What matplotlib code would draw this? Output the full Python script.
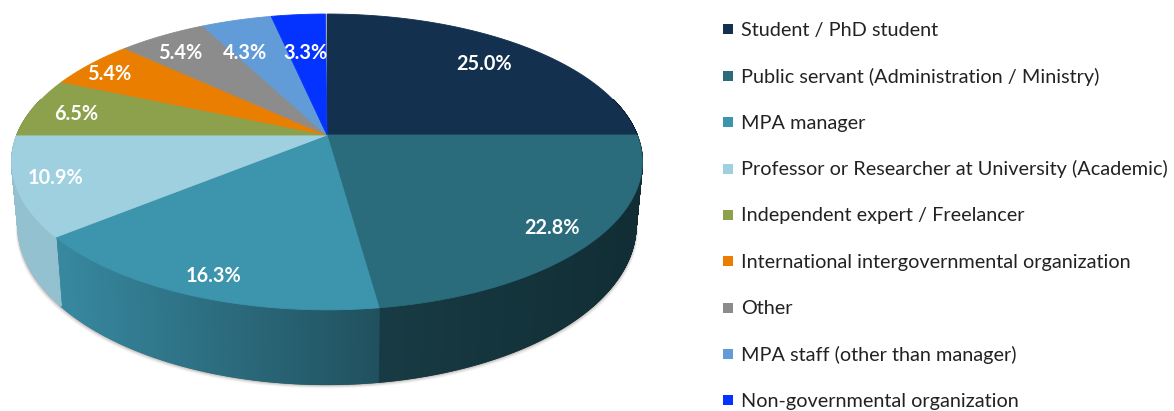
import numpy as np
import matplotlib
matplotlib.use("Agg")
import matplotlib.pyplot as plt
from matplotlib.patches import Polygon, Rectangle
from matplotlib.colors import to_rgb

categories = ["Student / PhD student", "Public servant (Administration / Ministry)",
              "MPA manager", "Professor or Researcher at University (Academic)",
              "Independent expert / Freelancer", "International intergovernmental organization",
              "Other", "MPA staff (other than manager)", "Non-governmental organization"]
values = [25.0, 22.8, 16.3, 10.9, 6.5, 5.4, 5.4, 4.3, 3.3]
colors = ["#13304f", "#2a6b7c", "#3c94ad", "#9fd0df", "#8da04c",
          "#e97e00", "#8c8c8c", "#619bd8", "#0433ff"]

# label centres, pixels
label_x = [484, 552, 214, 56, 76, 109, 180, 245, 305]
label_y = [64, 228, 276, 178, 114, 74, 53, 53, 53]

# perspective of the pie, pixels
cx, cy = 327, 135
rx, ry = 310, 143
persp = 0.182
depth = 61
bottom_scale = 0.98


def project(theta, d=0):
    u, v = np.sin(theta), -np.cos(theta)
    s = 1 / (1 - persp * v)
    k = bottom_scale if d else 1
    return cx + rx * k * u * s, cy + (ry * v + d) * s


plt.rcParams["font.family"] = ["Lato", "DejaVu Sans"]
fig = plt.figure(figsize=(11.74, 4.11), dpi=100)
ax = fig.add_axes([0, 0, 1, 1])
ax.set_xlim(0, 1174)
ax.set_ylim(411, 0)
ax.axis("off")

# soft shadow under the rim
t = np.linspace(np.pi / 2 - 0.1, 3 * np.pi / 2 + 0.1, 200)
x0, y0 = project(t, depth)
for off, a in [(4, 0.06), (3, 0.10), (2, 0.16), (1, 0.22)]:
    ax.add_patch(Polygon(np.c_[x0 + off * np.sign(np.sin(t)) * 0.6, y0 + off], closed=True,
                         fc="#6b5a55", ec="none", alpha=a, zorder=1))

bounds = np.radians(np.r_[0, np.cumsum(values)] * 3.6)
front_lo, front_hi = np.radians(75), np.radians(285)

# side walls, shaded darker towards the right
for i, col in enumerate(colors):
    lo, hi = max(bounds[i], front_lo), min(bounds[i + 1], front_hi)
    if hi <= lo:
        continue
    rgb = np.array(to_rgb(col))
    t = np.linspace(lo, hi, max(int(values[i] * 25), 4))
    xt, yt = project(t)
    xb, yb = project(t, depth)
    for j in range(len(t) - 1):
        xm = (xt[j] + xt[j + 1]) / 2
        f = np.interp(xm, [50, 375, 380, 640], [0.93, 0.55, 0.55, 0.42])
        quad = [(xt[j], yt[j]), (xt[j + 1], yt[j + 1]), (xb[j + 1], yb[j + 1]), (xb[j], yb[j])]
        ax.add_patch(Polygon(quad, closed=True, fc=rgb * f, ec=rgb * f, lw=1.0, zorder=2))

# top surface
for i, col in enumerate(colors):
    t = np.linspace(bounds[i], bounds[i + 1], max(int(values[i] * 8), 4))
    xt, yt = project(t)
    pts = np.r_[[[cx, cy]], np.c_[xt, yt]]
    ax.add_patch(Polygon(pts, closed=True, fc=col, ec=col, lw=0.6, zorder=3))

for v, lx, ly in zip(values, label_x, label_y):
    ax.text(lx, ly, f"{v:.1f}%", color="white", fontsize=14.3, fontweight="bold",
            ha="center", va="center", zorder=4)

# legend
for i, (name, col) in enumerate(zip(categories, colors)):
    ly = 29.5 + i * 46.35
    ax.add_patch(Rectangle((723, ly - 5), 10, 10, fc=col, ec="none", zorder=4))
    ax.text(741, ly + 0.8, name, color="#222222", fontsize=14.3, ha="left", va="center", zorder=4)

fig.savefig("out.png", dpi=100)
